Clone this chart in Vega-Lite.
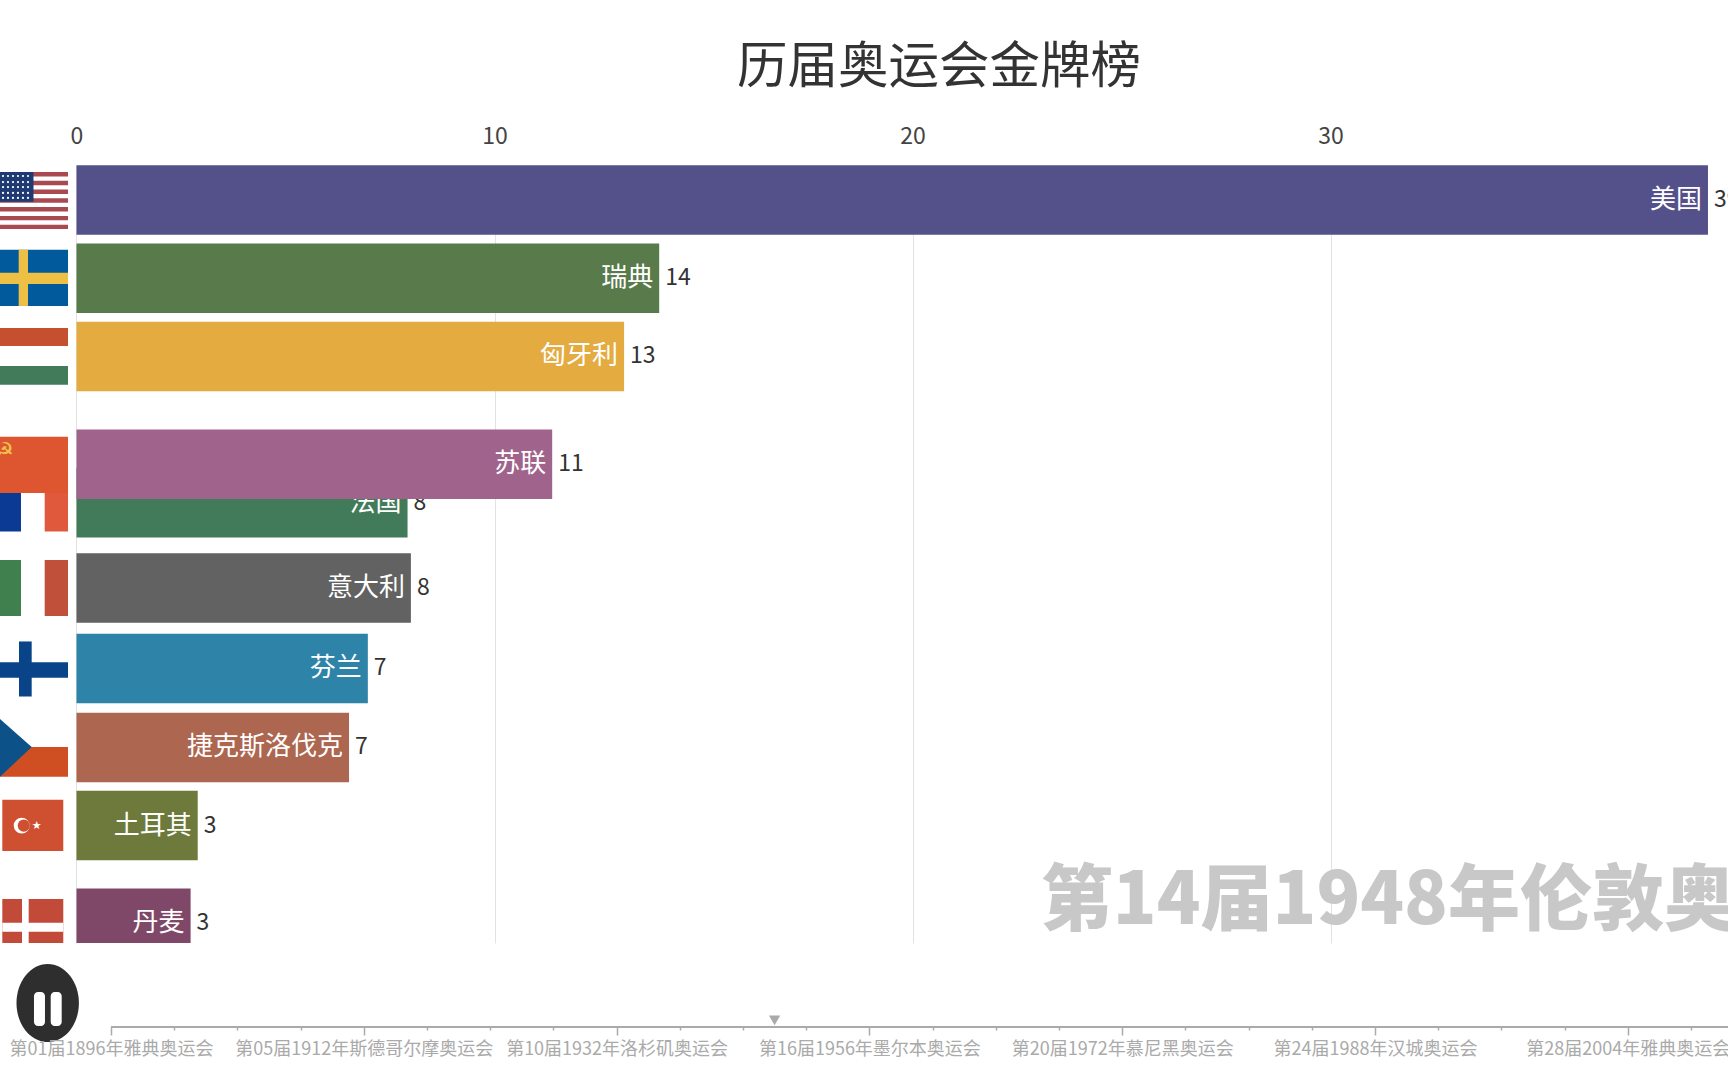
{
"$schema":"https://vega.github.io/schema/vega-lite/v6.json",
"width":1728,"height":778,
"autosize":"none",
"padding":{"left":0,"right":0,"top":165,"bottom":137},
"background":"white",
"title":{"text":"历届奥运会金牌榜","fontSize":50.5,"fontWeight":"normal","font":"Noto Sans CJK SC","color":"#333333","anchor":"middle","dx":75,"offset":32},
"config":{"view":{"stroke":null},"font":"Noto Sans CJK SC"},
"datasets":{
"countries":[
{"country":"美国","value":39.03,"rank":0},
{"country":"瑞典","value":13.94,"rank":1},
{"country":"匈牙利","value":13.1,"rank":2},
{"country":"法国","value":7.92,"rank":3.87},
{"country":"意大利","value":8.0,"rank":4.96},
{"country":"芬兰","value":6.97,"rank":5.99},
{"country":"捷克斯洛伐克","value":6.52,"rank":7.0},
{"country":"土耳其","value":2.9,"rank":8.0},
{"country":"丹麦","value":2.73,"rank":9.25},
{"country":"苏联","value":11.38,"rank":3.38}
],
"flagParts":[
{"tint":"usRed","x":-1.83,"x2":-0.203,"y":-0.358,"y2":-0.302},
{"tint":"usRed","x":-1.83,"x2":-0.203,"y":-0.246,"y2":-0.19},
{"tint":"usRed","x":-1.83,"x2":-0.203,"y":-0.134,"y2":-0.078},
{"tint":"usRed","x":-1.83,"x2":-0.203,"y":-0.022,"y2":0.034},
{"tint":"usRed","x":-1.83,"x2":-0.203,"y":0.091,"y2":0.147},
{"tint":"usRed","x":-1.83,"x2":-0.203,"y":0.203,"y2":0.259},
{"tint":"usRed","x":-1.83,"x2":-0.203,"y":0.315,"y2":0.371},
{"tint":"usBlue","x":-1.83,"x2":-1.029,"y":-0.358,"y2":0.022},
{"tint":"seBlue","x":-1.83,"x2":-0.203,"y":0.636,"y2":1.355},
{"tint":"seGold","x":-1.383,"x2":-1.16,"y":0.636,"y2":1.355},
{"tint":"seGold","x":-1.83,"x2":-0.203,"y":0.93,"y2":1.074},
{"tint":"huRed","x":-1.83,"x2":-0.203,"y":1.637,"y2":1.867},
{"tint":"huGreen","x":-1.83,"x2":-0.203,"y":2.123,"y2":2.362},
{"tint":"frBlue","x":-1.83,"x2":-1.328,"y":3.51,"y2":4.239},
{"tint":"frRed","x":-0.761,"x2":-0.203,"y":3.51,"y2":4.239},
{"tint":"suRed","x":-1.83,"x2":-0.203,"y":3.027,"y2":3.747},
{"tint":"itGreen","x":-1.83,"x2":-1.328,"y":4.604,"y2":5.32},
{"tint":"itRed","x":-0.761,"x2":-0.203,"y":4.604,"y2":5.32},
{"tint":"fiBlue","x":-1.376,"x2":-1.072,"y":5.645,"y2":6.349},
{"tint":"fiBlue","x":-1.83,"x2":-0.203,"y":5.912,"y2":6.108},
{"tint":"czRed","x":-1.83,"x2":-0.203,"y":6.995,"y2":7.375},
{"tint":"trRed","x":-1.775,"x2":-0.316,"y":7.67,"y2":8.323},
{"tint":"dkRed","x":-1.775,"x2":-0.316,"y":8.938,"y2":9.591},
{"tint":"white","x":-1.304,"x2":-1.144,"y":8.938,"y2":9.591},
{"tint":"white","x":-1.775,"x2":-0.316,"y":9.243,"y2":9.357}
],
"czTriangle":[
{"tint":"czBlue","x":-1.83,"y":6.637,"y2":7.375},
{"tint":"czBlue","x":-1.072,"y":6.995,"y2":6.995}
],
"usStars":[
{"x":-1.758,"y":-0.307},{"x":-1.639,"y":-0.307},{"x":-1.519,"y":-0.307},{"x":-1.4,"y":-0.307},{"x":-1.28,"y":-0.307},{"x":-1.16,"y":-0.307},
{"x":-1.758,"y":-0.23},{"x":-1.639,"y":-0.23},{"x":-1.519,"y":-0.23},{"x":-1.4,"y":-0.23},{"x":-1.28,"y":-0.23},{"x":-1.16,"y":-0.23},
{"x":-1.758,"y":-0.166},{"x":-1.639,"y":-0.166},{"x":-1.519,"y":-0.166},{"x":-1.4,"y":-0.166},{"x":-1.28,"y":-0.166},{"x":-1.16,"y":-0.166},
{"x":-1.758,"y":-0.09},{"x":-1.639,"y":-0.09},{"x":-1.519,"y":-0.09},{"x":-1.4,"y":-0.09},{"x":-1.28,"y":-0.09},{"x":-1.16,"y":-0.09},
{"x":-1.758,"y":-0.026},{"x":-1.639,"y":-0.026},{"x":-1.519,"y":-0.026},{"x":-1.4,"y":-0.026},{"x":-1.28,"y":-0.026},{"x":-1.16,"y":-0.026}
],
"pauseBars":[
{"x":-1.017,"x2":-0.754,"y":10.128,"y2":10.563},
{"x":-0.617,"x2":-0.354,"y":10.128,"y2":10.563}
]
},
"resolve":{"scale":{"x":"independent"},"axis":{"x":"independent"}},
"layer":[
{
"layer":[
{"data":{"name":"countries"},
 "transform":[{"filter":"datum.country !== '苏联'"}],
 "mark":{"type":"bar","orient":"horizontal","size":69.5,"clip":true},
 "encoding":{
 "x":{"field":"value","type":"quantitative","scale":{"domain":[-1.83,39.509],"nice":false,"zero":false},
  "axis":{"orient":"top","values":[0,10,20,30],"title":null,"domain":false,"ticks":false,"grid":true,"gridColor":"#e2e2e2","gridWidth":1,"labelFontSize":23,"labelColor":"#444444","labelPadding":17,"labelFont":"Noto Sans CJK SC","labelFlush":false,"labelOverlap":false,"format":"d"}},
 "x2":{"datum":0},
 "y":{"field":"rank","type":"quantitative","scale":{"domain":[-0.4476,9.501],"reverse":true,"nice":false,"zero":false,"padding":0},"axis":null},
 "color":{"field":"country","type":"nominal","legend":null,"scale":{
  "domain":["美国","瑞典","匈牙利","苏联","法国","意大利","芬兰","捷克斯洛伐克","土耳其","丹麦","usRed","usBlue","seBlue","seGold","huRed","huGreen","frBlue","frRed","suRed","itGreen","itRed","fiBlue","czRed","czBlue","trRed","dkRed","white"],
  "range":["#54508a","#597a4a","#e4ab40","#a0648c","#417b5a","#626262","#2e84a8","#ad6650","#6e7a3c","#804868","#a84a50","#1f3a73","#005a9c","#eebf45","#c4502f","#417b5a","#0a3a94","#e0593c","#dd5630","#40804f","#c0503a","#0a4488","#cf4f22","#0c5188","#cf5030","#c24a38","#ffffff"]}}
 }},
{"data":{"name":"countries"},
 "transform":[{"filter":"datum.country !== '苏联'"}],
 "mark":{"type":"text","align":"right","baseline":"middle","dx":-6,"fontSize":26,"color":"white","font":"Noto Sans CJK SC"},
 "encoding":{"x":{"field":"value","type":"quantitative"},"y":{"field":"rank","type":"quantitative"},"text":{"field":"country"}}},
{"data":{"name":"countries"},
 "transform":[{"filter":"datum.country !== '苏联'"}],
 "mark":{"type":"text","align":"left","baseline":"middle","dx":6,"fontSize":23,"color":"#333333","font":"Noto Sans CJK SC"},
 "encoding":{"x":{"field":"value","type":"quantitative"},"y":{"field":"rank","type":"quantitative"},"text":{"field":"value","type":"quantitative","format":".0f"}}},
{"data":{"name":"countries"},
 "transform":[{"filter":"datum.country === '苏联'"}],
 "mark":{"type":"bar","orient":"horizontal","size":69.5,"clip":true},
 "encoding":{"x":{"field":"value","type":"quantitative"},"x2":{"datum":0},"y":{"field":"rank","type":"quantitative"},"color":{"field":"country","type":"nominal"}}},
{"data":{"name":"countries"},
 "transform":[{"filter":"datum.country === '苏联'"}],
 "mark":{"type":"text","align":"right","baseline":"middle","dx":-6,"fontSize":26,"color":"white","font":"Noto Sans CJK SC"},
 "encoding":{"x":{"field":"value","type":"quantitative"},"y":{"field":"rank","type":"quantitative"},"text":{"field":"country"}}},
{"data":{"name":"countries"},
 "transform":[{"filter":"datum.country === '苏联'"}],
 "mark":{"type":"text","align":"left","baseline":"middle","dx":6,"fontSize":23,"color":"#333333","font":"Noto Sans CJK SC"},
 "encoding":{"x":{"field":"value","type":"quantitative"},"y":{"field":"rank","type":"quantitative"},"text":{"field":"value","type":"quantitative","format":".0f"}}},
{"data":{"name":"flagParts"},
 "mark":{"type":"rect","clip":true},
 "encoding":{"x":{"field":"x","type":"quantitative"},"x2":{"field":"x2"},"y":{"field":"y","type":"quantitative"},"y2":{"field":"y2"},"color":{"field":"tint","type":"nominal"}}},
{"data":{"name":"czTriangle"},
 "mark":{"type":"area","clip":true,"opacity":1},
 "encoding":{"x":{"field":"x","type":"quantitative"},"y":{"field":"y","type":"quantitative"},"y2":{"field":"y2"},"color":{"field":"tint","type":"nominal"}}},
{"data":{"name":"usStars"},
 "mark":{"type":"point","filled":true,"shape":"circle","size":5,"color":"#ffffff","opacity":1,"clip":true},
 "encoding":{"x":{"field":"x","type":"quantitative"},"y":{"field":"y","type":"quantitative"}}},
{"data":{"values":[{"x":-1.734,"y":3.21,"glyph":"☭"}]},
 "mark":{"type":"text","font":"DejaVu Sans","fontSize":22,"color":"#f2c14e","baseline":"middle","align":"center"},
 "encoding":{"x":{"field":"x","type":"quantitative"},"y":{"field":"y","type":"quantitative"},"text":{"field":"glyph"}}},
{"data":{"values":[{"x":-1.311,"y":8.0}]},
 "mark":{"type":"point","filled":true,"shape":"circle","size":254,"color":"#ffffff","opacity":1},
 "encoding":{"x":{"field":"x","type":"quantitative"},"y":{"field":"y","type":"quantitative"}}},
{"data":{"values":[{"x":-1.262,"y":8.0}]},
 "mark":{"type":"point","filled":true,"shape":"circle","size":145,"color":"#cf5030","opacity":1},
 "encoding":{"x":{"field":"x","type":"quantitative"},"y":{"field":"y","type":"quantitative"}}},
{"data":{"values":[{"x":-0.952,"y":8.0,"glyph":"★"}]},
 "mark":{"type":"text","font":"DejaVu Sans","fontSize":11,"color":"#ffffff","baseline":"middle","align":"center"},
 "encoding":{"x":{"field":"x","type":"quantitative"},"y":{"field":"y","type":"quantitative"},"text":{"field":"glyph"}}},
{"data":{"values":[{"x":23.07,"y":8.98,"label":"第14届1948年伦敦奥运会"}]},
 "mark":{"type":"text","align":"left","baseline":"middle","fontSize":72,"fontWeight":900,"color":"#c8c8c8","font":"Noto Sans CJK SC"},
 "encoding":{"x":{"field":"x","type":"quantitative"},"y":{"field":"y","type":"quantitative"},"text":{"field":"label"}}},
{"data":{"values":[{"x":-0.689,"y":10.269}]},
 "mark":{"type":"point","filled":true,"opacity":1,"shape":"M-0.8,0A0.8,1,0,1,1,0.8,0A0.8,1,0,1,1,-0.8,0Z","size":6084,"color":"#2e2e2e"},
 "encoding":{"x":{"field":"x","type":"quantitative"},"y":{"field":"y","type":"quantitative"}}},
{"data":{"name":"pauseBars"},
 "mark":{"type":"rect","color":"#ffffff","cornerRadius":4},
 "encoding":{"x":{"field":"x","type":"quantitative"},"x2":{"field":"x2"},"y":{"field":"y","type":"quantitative"},"y2":{"field":"y2"}}}
]
},
{
"layer":[
{"data":{"values":[{"idx":0,"end":25.585,"rank":10.575}]},
 "mark":{"type":"rule","strokeWidth":2,"color":"#aaaaaa"},
 "encoding":{
 "x":{"field":"idx","type":"quantitative","scale":{"domain":[-1.756,25.585],"nice":false,"zero":false},
  "axis":{"orient":"bottom","offset":84,"values":[0,1,2,3,4,5,6,7,8,9,10,11,12,13,14,15,16,17,18,19,20,21,22,23,24,25],"title":null,"domain":false,"grid":false,"tickColor":"#aaaaaa","tickWidth":1.5,"tickSize":{"expr":"datum.value % 4 === 0 ? 8 : 3"},"labelColor":"#aaaaaa","labelFontSize":18,"labelFont":"Noto Sans CJK SC","labelPadding":5,"labelOverlap":false,"labelFlush":false,"labelBound":false,"labelLimit":500,"zindex":1,
  "labelExpr":"({'0':'第01届1896年雅典奥运会','4':'第05届1912年斯德哥尔摩奥运会','8':'第10届1932年洛杉矶奥运会','12':'第16届1956年墨尔本奥运会','16':'第20届1972年慕尼黑奥运会','20':'第24届1988年汉城奥运会','24':'第28届2004年雅典奥运会'})[datum.value] || ''"}},
 "x2":{"field":"end"},
 "y":{"field":"rank","type":"quantitative"}
 }},
{"data":{"values":[{"idx":10.5,"rank":10.49}]},
 "mark":{"type":"point","filled":true,"opacity":1,"shape":"triangle-down","size":130,"color":"#aaaaaa"},
 "encoding":{"x":{"field":"idx","type":"quantitative"},"y":{"field":"rank","type":"quantitative"}}}
]
}
]
}
